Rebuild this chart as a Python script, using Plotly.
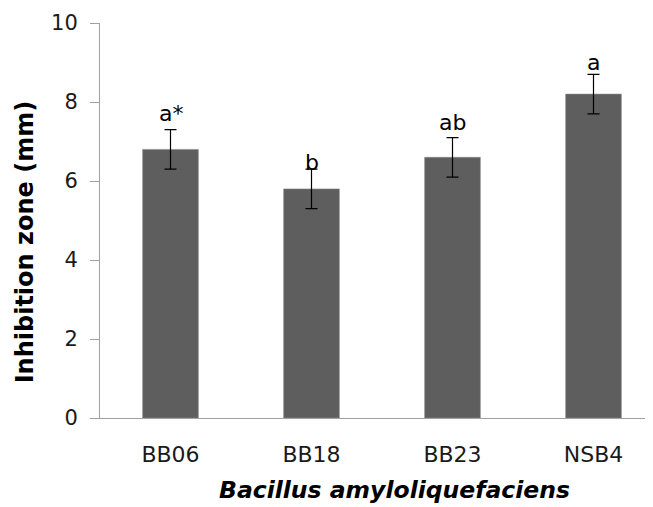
import plotly.graph_objects as go

strains = ["BB06", "BB18", "BB23", "NSB4"]
inhibition_mm = [6.8, 5.8, 6.6, 8.2]
error_mm = [0.5, 0.5, 0.5, 0.5]
group_labels = ["a*", "b", "ab", "a"]
y_ticks = [0, 2, 4, 6, 8, 10]

FONT = "DejaVu Sans, Verdana, sans-serif"
label_shift = [2, -8, 1, -3]

fig = go.Figure()
fig.add_trace(go.Bar(
    x=strains, y=inhibition_mm,
    marker=dict(color="#5e5e5e", line=dict(color="#8a8a8a", width=0.6)),
    width=0.395,
    error_y=dict(type="data", array=error_mm, visible=True,
                 color="#000000", thickness=1.2, width=6),
    hoverinfo="skip",
))

for s, v, e, lab, sh in zip(strains, inhibition_mm, error_mm, group_labels, label_shift):
    fig.add_annotation(x=s, y=v + e, text=lab, showarrow=False,
                       xref="x", yref="y", yanchor="bottom", yshift=sh,
                       font=dict(family=FONT, size=22, color="#000000"))

fig.add_annotation(text="<b>Inhibition zone (mm)</b>", textangle=-90,
                   xref="paper", yref="paper", x=-0.134, y=0.447,
                   xanchor="center", yanchor="middle", showarrow=False,
                   font=dict(family=FONT, size=24, color="#000000"))
fig.add_annotation(text="<b><i>Bacillus amyloliquefaciens</i></b>",
                   xref="paper", yref="paper", x=0.532, y=-0.182,
                   xanchor="center", yanchor="middle", showarrow=False,
                   font=dict(family=FONT, size=23.5, color="#000000"))

fig.update_layout(
    width=645, height=499,
    margin=dict(l=92, r=0, t=15, b=89),
    plot_bgcolor="white", paper_bgcolor="white",
    showlegend=False,
    font=dict(family=FONT, size=22, color="#1a1a1a"),
)
fig.update_xaxes(
    range=[-0.5, 3.422], showline=True, linecolor="#a0a0a0", linewidth=1,
    ticks="", showgrid=False, zeroline=False, ticklabelstandoff=17,
    tickfont=dict(family=FONT, size=22, color="#1a1a1a"),
)
fig.update_yaxes(
    range=[0, 10], tickvals=y_ticks, showline=True, linecolor="#a0a0a0",
    linewidth=1, ticks="outside", ticklen=9, tickcolor="#a0a0a0",
    showgrid=False, zeroline=False, ticklabelstandoff=8,
    tickfont=dict(family=FONT, size=21, color="#1a1a1a"),
)

fig.write_html("out.html")
